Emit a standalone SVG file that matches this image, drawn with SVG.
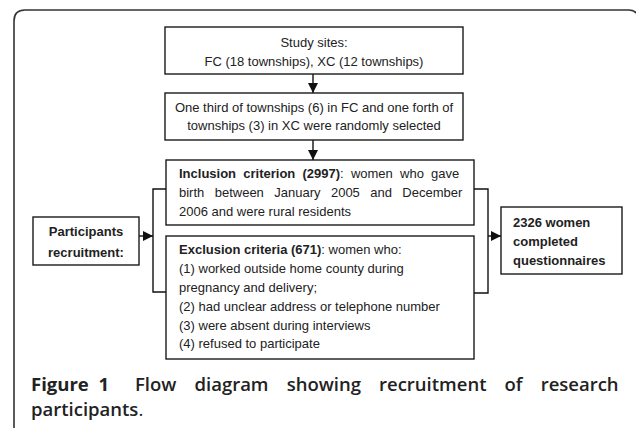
<svg xmlns="http://www.w3.org/2000/svg" width="636" height="428" viewBox="0 0 636 428">
<defs>
<marker id="ah" viewBox="0 0 10 10" refX="10" refY="5" markerWidth="10" markerHeight="10" markerUnits="userSpaceOnUse" orient="auto">
<path d="M0,0 L10,5 L0,10 z" fill="#111"/>
</marker>
<style>
.box{fill:#fff;stroke:#1a1a1a;stroke-width:1.4}
.t{font-family:"Liberation Sans",Arial,sans-serif;font-size:13px;fill:#222}
.b{font-weight:bold}
.c{text-anchor:middle}
.con{fill:none;stroke:#111;stroke-width:1.4}
.cap{font-family:"Open Sans","Noto Sans",sans-serif;font-size:18.5px;fill:#222;font-weight:600}
.capb{font-weight:700}
.capr{font-weight:400}
</style>
</defs>
<rect width="636" height="428" fill="#fff"/>
<path d="M14,428 V21 Q14,10 25,10 H629 Q636,10 640,18" fill="none" stroke="#333" stroke-width="1.6"/>

<g id="connectors">
<line class="con" x1="313" y1="74" x2="313" y2="93" marker-end="url(#ah)"/>
<line class="con" x1="313" y1="140" x2="313" y2="160" marker-end="url(#ah)"/>
<path class="con" d="M166,189 H153 V292 H166"/>
<line class="con" x1="139" y1="236" x2="153" y2="236" marker-end="url(#ah)"/>
<path class="con" d="M474,189 H488 V293 H474"/>
<line class="con" x1="488" y1="236" x2="501" y2="236" marker-end="url(#ah)"/>
</g>

<g id="study-sites">
<rect class="box" x="165" y="27" width="298" height="47"/>
<text class="t c" x="314" y="47">Study sites:</text>
<text class="t c" x="314" y="66">FC (18 townships), XC (12 townships)</text>
</g>

<g id="selection">
<rect class="box" x="165" y="93" width="298" height="47"/>
<text class="t c" x="314" y="112">One third of townships (6) in FC and one forth of</text>
<text class="t c" x="314" y="130">townships (3) in XC were randomly selected</text>
</g>

<g id="inclusion">
<rect class="box" x="166" y="160" width="308" height="65"/>
<text class="t" x="179" y="178" word-spacing="3.6"><tspan class="b">Inclusion criterion (2997)</tspan>: women who gave</text>
<text class="t" x="179" y="197" word-spacing="6.8">birth between January 2005 and December</text>
<text class="t" x="179" y="216">2006 and were rural residents</text>
</g>

<g id="exclusion">
<rect class="box" x="166" y="236" width="308" height="123"/>
<text class="t" x="179" y="254"><tspan class="b">Exclusion criteria (671)</tspan>: women who:</text>
<text class="t" x="179" y="273">(1) worked outside home county during</text>
<text class="t" x="179" y="292">pregnancy and delivery;</text>
<text class="t" x="179" y="311">(2) had unclear address or telephone number</text>
<text class="t" x="179" y="330">(3) were absent during interviews</text>
<text class="t" x="179" y="348">(4) refused to participate</text>
</g>

<g id="participants">
<rect class="box" x="33" y="217" width="106" height="48"/>
<text class="t b c" x="86" y="236">Participants</text>
<text class="t b c" x="86" y="257">recruitment:</text>
</g>

<g id="completed">
<rect class="box" x="501" y="207" width="121" height="67"/>
<text class="t b" x="513" y="227">2326 women</text>
<text class="t b" x="513" y="246">completed</text>
<text class="t b" x="513" y="265">questionnaires</text>
</g>

<g id="caption">
<text class="cap capb" x="31" y="391" word-spacing="5">Figure 1</text>
<text class="cap" x="135" y="391" word-spacing="13.3">Flow diagram showing recruitment of research</text>
<text class="cap" x="31" y="416">participants<tspan class="capr">.</tspan></text>
</g>
</svg>
